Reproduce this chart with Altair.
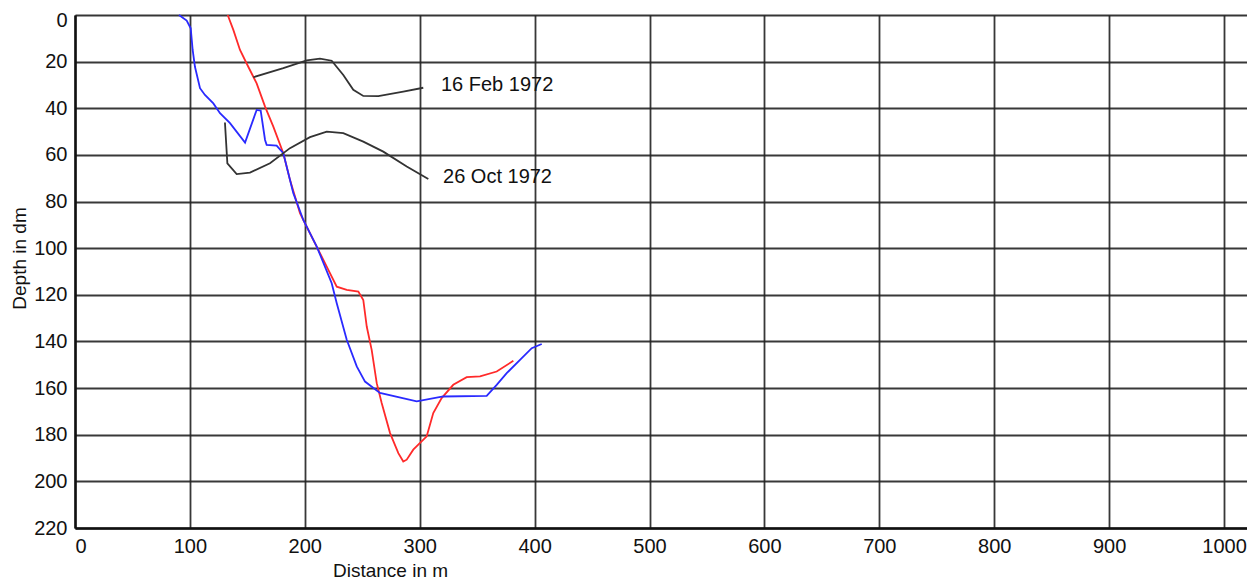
import altair as alt
import pandas as pd

# 16 Feb 1972 profile (red)
feb_x = [132.9, 137.8, 143.6, 150.8, 158.1, 165.4, 172.6, 181.3, 187.1, 195.8, 204.5, 213.2, 221.9, 227.8,
         236.5, 246.6, 250.9, 253.9, 258.2, 262.6, 266.9, 274.2, 281.4, 285.7, 288.7, 294.4, 306.1, 311.8,
         319.1, 329.2, 340.9, 352.5, 367.0, 381.5]
feb_y = [0, 6.4, 15.0, 22.2, 29.3, 39.3, 47.9, 59.3, 70.7, 85.0, 93.6, 102.1, 110.7, 116.5,
         117.9, 118.6, 122.2, 133.6, 143.6, 157.9, 166.4, 179.3, 187.9, 191.5, 190.7, 186.4, 180.7, 170.7,
         164.3, 158.6, 155.3, 155.0, 152.9, 148.3]

# 26 Oct 1972 profile (blue)
oct_x = [90.5, 97.2, 100.7, 102.4, 104.4, 108.8, 113.1, 120.4, 126.2, 134.9, 148.0, 158.1, 161.6, 165.4,
         166.8, 175.5, 181.3, 190.0, 198.7, 210.4, 223.4, 227.8, 236.5, 245.2, 252.4, 265.4, 297.4, 320.5,
         358.3, 367.0, 375.7, 387.3, 397.5, 406.2]
oct_y = [0, 2.4, 5.7, 15.0, 22.2, 31.4, 34.3, 37.9, 42.1, 46.4, 54.7, 40.7, 41.0, 53.6,
         55.7, 56.0, 59.3, 76.4, 87.9, 99.3, 115.0, 123.6, 139.3, 150.7, 157.2, 162.1, 165.7, 163.6,
         163.3, 158.6, 153.6, 147.9, 142.9, 141.1]

# leader curves to the labels
lead_feb_x = [155.2, 181.3, 201.7, 213.2, 223.4, 233.5, 242.2, 250.9, 264.0, 285.7, 303.1]
lead_feb_y = [26.7, 22.8, 19.5, 18.7, 19.6, 25.7, 32.1, 34.7, 34.8, 32.9, 31.2]
lead_oct_x = [130.5, 131.4, 132.6, 140.7, 152.3, 169.7, 187.1, 204.5, 219.1, 233.5, 250.9, 268.3, 288.7, 307.5]
lead_oct_y = [46.1, 53.6, 63.6, 68.2, 67.6, 63.6, 57.1, 52.4, 50.0, 50.7, 54.3, 58.6, 65.0, 70.3]

labels = ["16 Feb 1972", "26 Oct 1972"]
label_x = [318.5, 320.3]
label_y = [30.2, 69.6]

x_ticks = [0, 100, 200, 300, 400, 500, 600, 700, 800, 900, 1000]
y_ticks = [0, 20, 40, 60, 80, 100, 120, 140, 160, 180, 200, 220]


def frame(xs, ys, name):
    return pd.DataFrame({"x": xs, "y": ys, "o": list(range(len(xs))), "s": name})


df = pd.concat([
    frame(feb_x, feb_y, "feb"),
    frame(oct_x, oct_y, "oct"),
    frame(lead_feb_x, lead_feb_y, "lfeb"),
    frame(lead_oct_x, lead_oct_y, "loct"),
])

FONT = "Liberation Sans"

xs = alt.Scale(domain=[0, 1020], nice=False, zero=False)
ys = alt.Scale(domain=[0, 220], reverse=True, nice=False, zero=False)

xaxis = alt.Axis(values=x_ticks, format="d", title="Distance in m", grid=True, gridColor="#222",
                 gridWidth=1.8, gridOpacity=0.9, domainColor="#111", domainWidth=2.5, ticks=False,
                 labelPadding=8, labelFont=FONT, labelFontSize=20, labelColor="#111",
                 titleFont=FONT, titleFontSize=19, titleFontWeight="normal", titleColor="#111",
                 titleX=315, titleY=48, titleBaseline="alphabetic")
yaxis = alt.Axis(values=y_ticks, format="d", title="Depth in dm", grid=True, gridColor="#222",
                 gridWidth=1.8, gridOpacity=0.9, domainColor="#111", domainWidth=2.5, ticks=False,
                 labelPadding=8, labelFont=FONT, labelFontSize=20, labelColor="#111",
                 labelOffset={"condition": {"test": "datum.value == 0", "value": 5}, "value": 0},
                 titleFont=FONT, titleFontSize=19, titleFontWeight="normal", titleColor="#111",
                 titleX=-46, titleY=243, titleBaseline="bottom")

base = alt.Chart(df)

lines = base.mark_line(strokeWidth=1.8).encode(
    x=alt.X("x:Q", scale=xs, axis=xaxis),
    y=alt.Y("y:Q", scale=ys, axis=yaxis),
    detail="s:N",
    order="o:Q",
    color=alt.Color("s:N", scale=alt.Scale(domain=["feb", "oct", "lfeb", "loct"],
                                           range=["#ff2a2a", "#2a2aff", "#333333", "#333333"]),
                    legend=None),
)

ldf = pd.DataFrame({"t": labels, "x": label_x, "y": label_y})
text = alt.Chart(ldf).mark_text(align="left", baseline="middle", font=FONT, fontSize=20, color="#111").encode(
    x=alt.X("x:Q", scale=xs),
    y=alt.Y("y:Q", scale=ys),
    text="t:N",
)

chart = alt.layer(lines, text).properties(
    width=1172, height=513,
    autosize=alt.AutoSizeParams(type="none"),
    padding={"left": 67, "top": 7, "right": 0, "bottom": 52},
).configure_view(stroke=None).configure(background="white")

chart.save("out.html", embed_options={"renderer": "svg", "actions": False})
